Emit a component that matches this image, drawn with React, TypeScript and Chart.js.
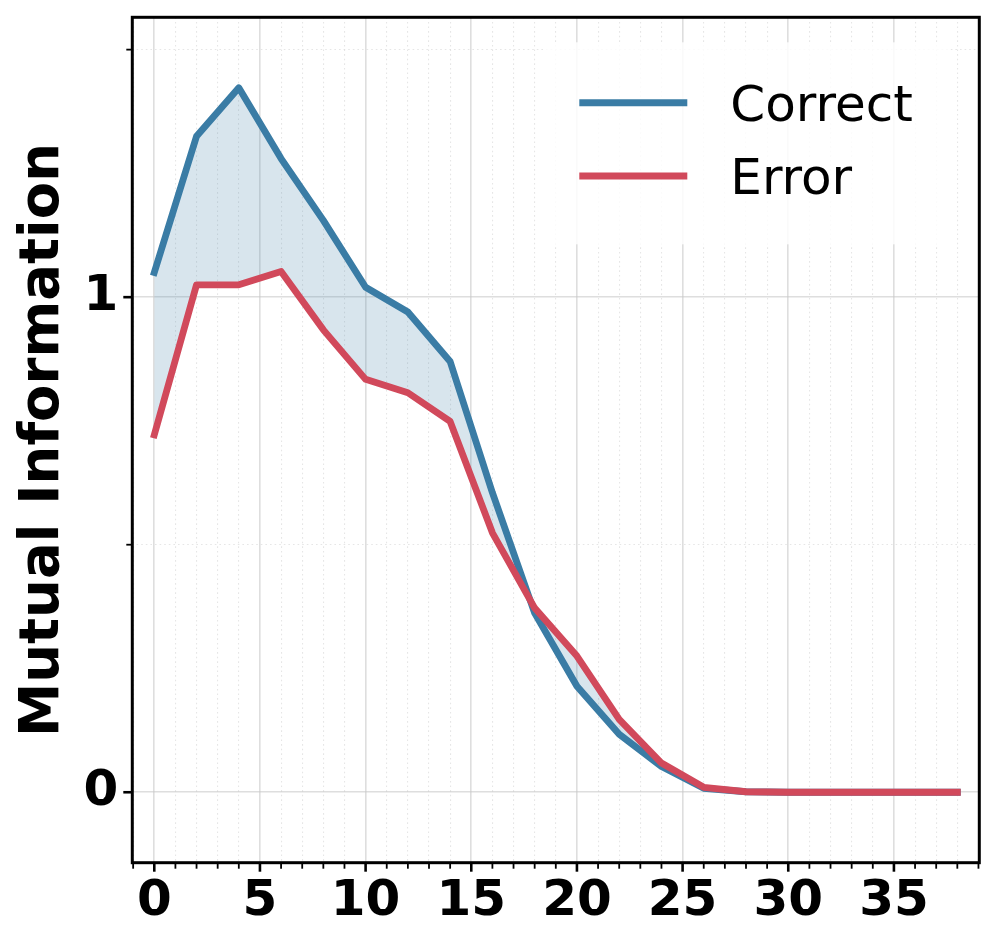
import React, { useEffect, useRef } from 'react';
import { Chart, registerables } from 'chart.js';

Chart.register(...registerables);

// ---- data ----
const xValues = [0, 2, 4, 6, 8, 10, 12, 14, 16, 18, 20, 22, 24, 26, 28, 30, 32, 34, 36, 38];
const correctValues = [1.05, 1.325, 1.423, 1.28, 1.155, 1.02, 0.97, 0.87, 0.605, 0.362, 0.214, 0.117, 0.052, 0.008, 0.001, 0, 0, 0, 0, 0];
const errorValues = [0.722, 1.025, 1.025, 1.052, 0.934, 0.834, 0.807, 0.749, 0.524, 0.372, 0.275, 0.147, 0.059, 0.01, 0.001, 0, 0, 0, 0, 0];
const seriesNames = ['Correct', 'Error'];
const xMajorTicks = [0, 5, 10, 15, 20, 25, 30, 35];
const xTickLabels = ['0', '5', '10', '15', '20', '25', '30', '35'];
const xMinorTicks = [-1, 1, 2, 3, 4, 6, 7, 8, 9, 11, 12, 13, 14, 16, 17, 18, 19, 21, 22, 23, 24, 26, 27, 28, 29, 31, 32, 33, 34, 36, 37, 38, 39];
const yMajorTicks = [0, 1];
const yTickLabels = ['0', '1'];
const yMinorTicks = [0.5, 1.5];
const yTitle = 'Mutual Information';

const BLUE = '#3a7ca5';
const RED = '#d1495b';
const FILL = 'rgba(58,124,165,0.2)';
const MAJOR_GRID = 'rgba(200,200,200,0.6)';
const MINOR_GRID = 'rgba(200,200,200,0.45)';
const FONT = 'DejaVu Sans';

const yMaxData = Math.max(...correctValues, ...errorValues);

const isXMajor = (v: number) => xMajorTicks.includes(v);
const isYMajor = (v: number) => yMajorTicks.includes(v);

const decorPlugin = {
  id: 'decor',
  afterDraw(chart: any) {
    const { ctx, chartArea: a, scales } = chart;
    const x = scales.x;
    const y = scales.y;
    ctx.save();
    ctx.strokeStyle = '#000';
    ctx.lineCap = 'butt';
    // x ticks
    x.ticks.forEach((t: any) => {
      const px = x.getPixelForValue(t.value);
      const major = isXMajor(t.value);
      ctx.lineWidth = major ? 2.6 : 1.8;
      ctx.beginPath();
      ctx.moveTo(px, a.bottom);
      ctx.lineTo(px, a.bottom + (major ? 9 : 6));
      ctx.stroke();
    });
    // y ticks
    y.ticks.forEach((t: any) => {
      const py = y.getPixelForValue(t.value);
      const major = isYMajor(t.value);
      ctx.lineWidth = major ? 2.6 : 1.8;
      ctx.beginPath();
      ctx.moveTo(a.left, py);
      ctx.lineTo(a.left - (major ? 9 : 6), py);
      ctx.stroke();
    });
    // frame
    ctx.lineWidth = 3;
    ctx.strokeRect(a.left, a.top, a.right - a.left, a.bottom - a.top);

    // legend
    const bx0 = a.right - 436;
    const by0 = a.top + 25;
    const bw = 407;
    const bh = 202;
    ctx.fillStyle = 'rgba(255,255,255,0.85)';
    ctx.fillRect(bx0, by0, bw, bh);
    const ds = chart.data.datasets;
    const rows = [a.top + 85.5, a.top + 158.8];
    const baselines = [a.top + 104, a.top + 177];
    ds.forEach((d: any, i: number) => {
      ctx.strokeStyle = d.borderColor;
      ctx.lineWidth = 7;
      ctx.lineCap = 'butt';
      ctx.beginPath();
      ctx.moveTo(bx0 + 36, rows[i]);
      ctx.lineTo(bx0 + 144, rows[i]);
      ctx.stroke();
      ctx.fillStyle = '#000';
      ctx.font = `50px "${FONT}"`;
      ctx.textBaseline = 'alphabetic';
      ctx.textAlign = 'left';
      ctx.fillText(d.label, bx0 + 187, baselines[i]);
    });
    ctx.restore();
  },
};

export default function App() {
  const ref = useRef<HTMLCanvasElement | null>(null);

  useEffect(() => {
    if (!ref.current) return;
    const chart = new Chart(ref.current, {
      type: 'line',
      data: {
        datasets: [
          {
            label: seriesNames[0],
            data: xValues.map((v, i) => ({ x: v, y: correctValues[i] })),
            borderColor: BLUE,
            backgroundColor: FILL,
            borderWidth: 6.8,
            pointRadius: 0,
            tension: 0,
            fill: 1,
            order: 2,
            borderCapStyle: 'square',
            borderJoinStyle: 'round',
          },
          {
            label: seriesNames[1],
            data: xValues.map((v, i) => ({ x: v, y: errorValues[i] })),
            borderColor: RED,
            backgroundColor: RED,
            borderWidth: 6.8,
            pointRadius: 0,
            tension: 0,
            fill: false,
            order: 1,
            borderCapStyle: 'square',
            borderJoinStyle: 'round',
          },
        ],
      },
      options: {
        animation: false,
        responsive: false,
        devicePixelRatio: 1,
        layout: { padding: { top: 17.3, right: 17.7, bottom: 0, left: 0 } },
        plugins: {
          legend: { display: false },
          tooltip: { enabled: false },
          filler: { propagate: false },
        },
        scales: {
          x: {
            type: 'linear',
            min: -1.04,
            max: 39.04,
            afterBuildTicks: (scale: any) => {
              scale.ticks = [...xMinorTicks, ...xMajorTicks].sort((p, q) => p - q).map((v) => ({ value: v }));
            },
            afterFit: (scale: any) => {
              scale.height = 84.3;
              scale.paddingLeft = 0;
              scale.paddingRight = 0;
              scale.paddingTop = 0;
              scale.paddingBottom = 0;
            },
            ticks: {
              autoSkip: false,
              maxRotation: 0,
              minRotation: 0,
              padding: 9,
              color: '#000',
              font: { family: FONT, size: 50, weight: 'bold' },
              callback: (v: any) => {
                const idx = xMajorTicks.indexOf(Number(v));
                return idx >= 0 ? xTickLabels[idx] : '';
              },
            },
            grid: {
              drawTicks: false,
              color: (c: any) => (isXMajor(c.tick?.value) ? MAJOR_GRID : MINOR_GRID),
              lineWidth: (c: any) => (isXMajor(c.tick?.value) ? 1.6 : 1.1),
            },
            border: {
              display: false,
              dash: (c: any) => (isXMajor(c.tick?.value) ? [] : [1.6, 3]),
            },
          },
          y: {
            type: 'linear',
            min: -0.1 * yMaxData,
            max: 1.1 * yMaxData,
            afterBuildTicks: (scale: any) => {
              scale.ticks = [...yMajorTicks, ...yMinorTicks].sort((p, q) => p - q).map((v) => ({ value: v }));
            },
            afterFit: (scale: any) => {
              scale.width = 132.3;
              scale.paddingLeft = 0;
              scale.paddingRight = 0;
              scale.paddingTop = 0;
              scale.paddingBottom = 0;
            },
            ticks: {
              autoSkip: false,
              padding: 14,
              color: '#000',
              font: { family: FONT, size: 50, weight: 'bold' },
              callback: (v: any) => {
                const idx = yMajorTicks.indexOf(Number(v));
                return idx >= 0 ? yTickLabels[idx] : '';
              },
            },
            grid: {
              drawTicks: false,
              color: (c: any) => (isYMajor(c.tick?.value) ? MAJOR_GRID : MINOR_GRID),
              lineWidth: (c: any) => (isYMajor(c.tick?.value) ? 1.6 : 1.1),
            },
            border: {
              display: false,
              dash: (c: any) => (isYMajor(c.tick?.value) ? [] : [1.6, 3]),
            },
            title: {
              display: true,
              text: yTitle,
              color: '#000',
              font: { family: FONT, size: 54.5, weight: 'bold' },
              padding: { top: 11, bottom: 0 },
            },
          },
        },
      },
      plugins: [decorPlugin],
    } as any);
    return () => chart.destroy();
  }, []);

  return (
    <div style={{ position: 'fixed', left: 0, top: 0, width: 997, height: 947, background: '#fff' }}>
      <canvas ref={ref} width={997} height={947} style={{ display: 'block' }} />
    </div>
  );
}
